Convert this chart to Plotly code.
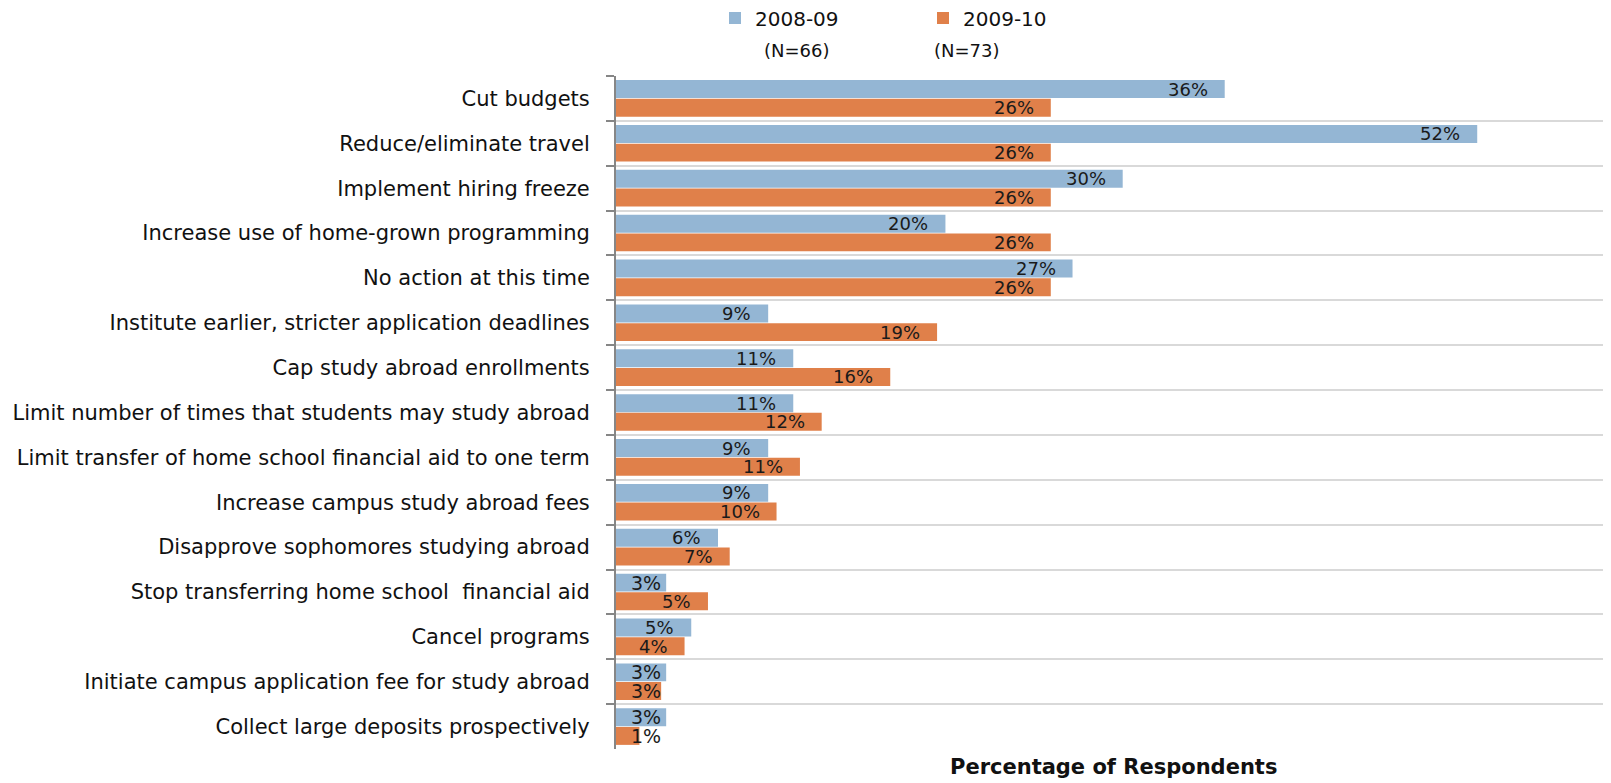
import plotly.graph_objects as go

categories = [
    "Cut budgets",
    "Reduce/eliminate travel",
    "Implement hiring freeze",
    "Increase use of home-grown programming",
    "No action at this time",
    "Institute earlier, stricter application deadlines",
    "Cap study abroad enrollments",
    "Limit number of times that students may study abroad",
    "Limit transfer of home school financial aid to one term",
    "Increase campus study abroad fees",
    "Disapprove sophomores studying abroad",
    "Stop transferring home school  financial aid",
    "Cancel programs",
    "Initiate campus application fee for study abroad",
    "Collect large deposits prospectively",
]
values_0809 = [36.4, 51.5, 30.3, 19.7, 27.3, 9.1, 10.6, 10.6, 9.1, 9.1, 6.1, 3.0, 4.5, 3.0, 3.0]
values_0910 = [26.0, 26.0, 26.0, 26.0, 26.0, 19.2, 16.4, 12.3, 11.0, 9.6, 6.8, 5.5, 4.1, 2.7, 1.4]
labels_0809 = ["36%", "52%", "30%", "20%", "27%", "9%", "11%", "11%", "9%", "9%", "6%", "3%", "5%", "3%", "3%"]
labels_0910 = ["26%", "26%", "26%", "26%", "26%", "19%", "16%", "12%", "11%", "10%", "7%", "5%", "4%", "3%", "1%"]
series_names = ["2008-09", "2009-10"]
series_n = ["(N=66)", "(N=73)"]

FONT = "Tahoma, 'DejaVu Sans', sans-serif"
BLUE = "#94b6d4"
ORANGE = "#e0804a"

fig = go.Figure()
fig.add_trace(go.Bar(y=categories, x=values_0809, orientation="h", name=series_names[0],
                     marker=dict(color=BLUE, line=dict(width=0))))
fig.add_trace(go.Bar(y=categories, x=values_0910, orientation="h", name=series_names[1],
                     marker=dict(color=ORANGE, line=dict(width=0))))

annotations = []
for vals, labs, shift in ((values_0809, labels_0809, 9.35), (values_0910, labels_0910, -9.35)):
    for c, v, t in zip(categories, vals, labs):
        if v < 3.6:
            annotations.append(dict(x=0, y=c, xref="x", yref="y", text=t, showarrow=False,
                                    xanchor="left", xshift=13, yshift=shift,
                                    font=dict(size=19, color="#1a1a1a", family=FONT)))
        else:
            annotations.append(dict(x=v, y=c, xref="x", yref="y", text=t, showarrow=False,
                                    xanchor="right", xshift=-15, yshift=shift,
                                    font=dict(size=18, color="#1a1a1a", family=FONT)))

annotations.append(dict(x=(797 - 616) / 995, y=1 + 25 / 673, xref="paper", yref="paper",
                        text=series_n[0], showarrow=False, xanchor="center", yanchor="middle",
                        font=dict(size=18, color="#111111", family=FONT)))
annotations.append(dict(x=(967 - 616) / 995, y=1 + 25 / 673, xref="paper", yref="paper",
                        text=series_n[1], showarrow=False, xanchor="center", yanchor="middle",
                        font=dict(size=18, color="#111111", family=FONT)))
annotations.append(dict(x=0.5, y=0, xref="paper", yref="paper", text="<b>Percentage of Respondents</b>",
                        showarrow=False, xanchor="center", yanchor="top", yshift=-4,
                        font=dict(size=21, color="#111111", family=FONT)))

# page body has an 8px margin, so the figure is sized/offset to compensate
fig.update_layout(
    width=1603, height=775,
    margin=dict(l=608, r=0, t=68, b=34),
    paper_bgcolor="white", plot_bgcolor="white",
    barmode="group", bargap=0.167, bargroupgap=0.04,
    font=dict(family=FONT, size=21, color="#111111"),
    showlegend=True,
    legend=dict(orientation="h", x=(715 - 616) / 995, xanchor="left",
                yref="container", y=1 - 10 / 775, yanchor="middle",
                entrywidth=163, entrywidthmode="pixels", font=dict(size=20, color="#111111"),
                bgcolor="rgba(0,0,0,0)"),
    annotations=annotations,
)
fig.update_xaxes(range=[0, 59.5], showgrid=False, zeroline=False, showticklabels=False,
                 showline=False, ticks="")
fig.update_yaxes(autorange="reversed", tickson="boundaries", showgrid=True, gridcolor="#d9d9d9",
                 gridwidth=2, showline=True, linecolor="#868686", linewidth=2,
                 ticks="outside", ticklen=8, tickwidth=2, tickcolor="#868686",
                 ticklabelstandoff=20, tickfont=dict(size=21, color="#111111", family=FONT))

fig.write_html("out.html")
